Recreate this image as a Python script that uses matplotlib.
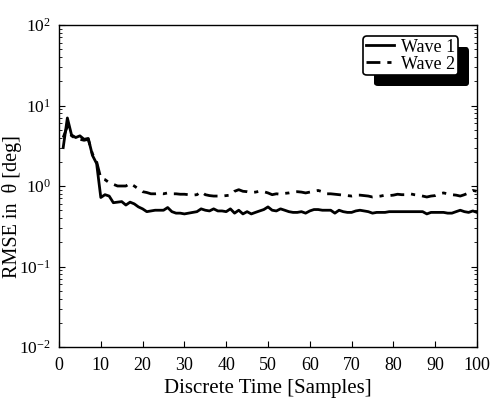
import matplotlib
matplotlib.use("Agg")
import matplotlib.pyplot as plt
import matplotlib.patheffects as pe
import numpy as np

plt.rcParams["font.family"] = ["Liberation Serif", "DejaVu Serif"]
plt.rcParams["mathtext.fontset"] = "stix"

# ---------------------------------------------------------------------------
# Data (RMSE per sample)
# ---------------------------------------------------------------------------
time_samples = list(range(1, 101))

wave1_rmse = [
    3.0, 7.0, 4.3, 4.0, 4.2, 3.8, 3.9, 2.4, 1.9, 0.72,
    0.78, 0.75, 0.62, 0.63, 0.64, 0.58, 0.63, 0.60, 0.55, 0.52,
    0.48, 0.49, 0.50, 0.50, 0.50, 0.54, 0.48, 0.46, 0.46, 0.45,
    0.46, 0.47, 0.48, 0.52, 0.50, 0.49, 0.52, 0.49, 0.49, 0.48,
    0.52, 0.46, 0.50, 0.45, 0.48, 0.45, 0.47, 0.49, 0.51, 0.55,
    0.50, 0.49, 0.52, 0.50, 0.48, 0.47, 0.47, 0.48, 0.46, 0.49,
    0.51, 0.51, 0.50, 0.50, 0.50, 0.46, 0.50, 0.48, 0.47, 0.47,
    0.49, 0.50, 0.49, 0.48, 0.46, 0.47, 0.47, 0.47, 0.48, 0.48,
    0.48, 0.48, 0.48, 0.48, 0.48, 0.48, 0.48, 0.45, 0.47, 0.47,
    0.47, 0.47, 0.46, 0.46, 0.48, 0.50, 0.48, 0.47, 0.49, 0.47,
]

wave2_rmse = [
    4.0, 5.5, 4.2, 3.9, 3.8, 3.7, 3.8, 2.5, 2.0, 1.25,
    1.20, 1.10, 1.05, 1.00, 1.00, 1.00, 1.08, 1.00, 0.92, 0.85,
    0.83, 0.80, 0.80, 0.81, 0.80, 0.82, 0.80, 0.80, 0.79, 0.79,
    0.78, 0.77, 0.78, 0.85, 0.78, 0.76, 0.75, 0.75, 0.75, 0.76,
    0.77, 0.86, 0.90, 0.86, 0.85, 0.83, 0.84, 0.86, 0.85, 0.82,
    0.78, 0.80, 0.79, 0.81, 0.82, 0.84, 0.85, 0.84, 0.82, 0.84,
    0.86, 0.88, 0.85, 0.80, 0.80, 0.79, 0.78, 0.77, 0.76, 0.75,
    0.77, 0.77, 0.76, 0.75, 0.73, 0.74, 0.75, 0.77, 0.76, 0.77,
    0.79, 0.78, 0.78, 0.80, 0.78, 0.77, 0.75, 0.73, 0.75, 0.76,
    0.80, 0.82, 0.80, 0.78, 0.77, 0.75, 0.78, 0.82, 0.88, 0.86,
]

x_ticks = list(range(0, 101, 10))

# ---------------------------------------------------------------------------
# Plot
# ---------------------------------------------------------------------------
fig = plt.figure(figsize=(4.93, 4.0), dpi=100)
ax = fig.add_axes([0.1197, 0.1325, 0.8478, 0.805])

ax.semilogy(time_samples, wave1_rmse, color="black", linewidth=2.0,
            label="Wave 1")
ax.semilogy(time_samples, wave2_rmse, color="black", linewidth=2.0,
            linestyle=(0, (5, 2.5, 1.5, 2.5)), label="Wave 2")

ax.set_xlim(0, 100)
ax.set_ylim(1e-2, 1e2)
ax.set_xticks(x_ticks)
ax.tick_params(which="both", direction="in", right=True, labelsize=13)
ax.tick_params(axis="y", labelsize=12.5)
ax.tick_params(axis="x", which="major", pad=7)
ax.tick_params(axis="y", which="major", pad=6)
ax.tick_params(which="major", length=4)
ax.tick_params(which="minor", length=2)
for sp in ax.spines.values():
    sp.set_linewidth(1.0)

ax.set_xlabel("Discrete Time [Samples]", fontsize=15, va="top")
ax.xaxis.set_label_coords(0.5, -0.1)
ax.set_ylabel("RMSE in  \u03b8 [deg]", fontsize=14.5, va="center")
ax.yaxis.set_label_coords(-0.113, 0.435)

leg = ax.legend(loc="upper right", bbox_to_anchor=(0.955, 0.966),
                borderaxespad=0.0, fontsize=13, frameon=True, fancybox=True,
                framealpha=1, edgecolor="black", handlelength=1.55,
                borderpad=0.15, labelspacing=0.0, handletextpad=0.4)
leg.get_frame().set_linewidth(1.2)
leg.get_frame().set_path_effects([
    pe.SimplePatchShadow(offset=(8, -8), shadow_rgbFace="black", alpha=1.0),
    pe.Normal(),
])

fig.savefig("out.png", dpi=100)
